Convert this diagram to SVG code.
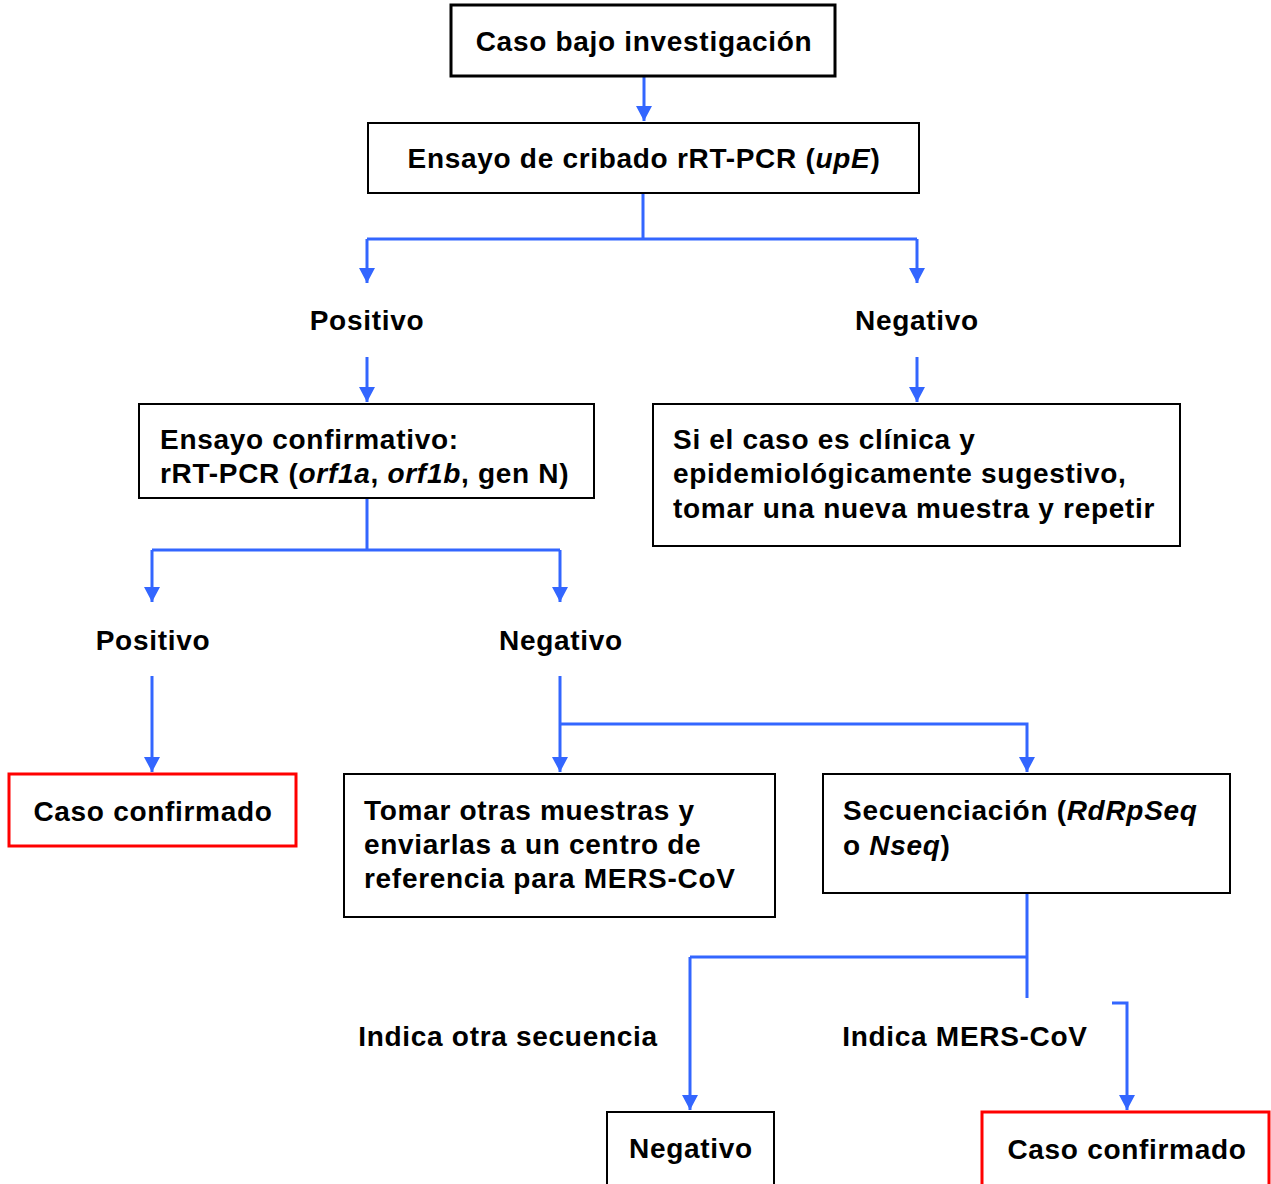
<svg xmlns="http://www.w3.org/2000/svg" width="1271" height="1184" viewBox="0 0 1271 1184">
<defs>
<marker id="ah" markerWidth="16" markerHeight="16" viewBox="0 0 16 16" refX="15" refY="8" orient="auto" markerUnits="userSpaceOnUse">
<path d="M0 0 L15 8 L0 16 Z" fill="#3366FF"/>
</marker>
<style>
text{font-family:"Liberation Sans",Arial,sans-serif;font-weight:bold;font-size:28px;letter-spacing:0.7px;fill:#000}
.c{text-anchor:middle}
.box{fill:#fff;stroke:#000;stroke-width:2}
.thick{stroke-width:3}
.red{fill:#fff;stroke:#FF0000;stroke-width:3}
.ln{fill:none;stroke:#3366FF;stroke-width:3}
.ar{marker-end:url(#ah)}
</style>
</defs>
<rect width="1271" height="1184" fill="#fff"/>
<g id="connectors">
<path class="ln ar" d="M644 77 V121"/>
<path class="ln" d="M643 194 V239 M367 239 H917"/>
<path class="ln ar" d="M367 239 V283"/>
<path class="ln ar" d="M917 239 V283"/>
<path class="ln ar" d="M367 357 V402"/>
<path class="ln ar" d="M917 357 V402"/>
<path class="ln" d="M367 499 V550 M152 550 H560"/>
<path class="ln ar" d="M152 550 V602"/>
<path class="ln ar" d="M560 550 V602"/>
<path class="ln ar" d="M152 676 V772"/>
<path class="ln ar" d="M560 676 V772"/>
<path class="ln ar" d="M560 724 H1027 V772"/>
<path class="ln" d="M1027 894 V998 M690 957 H1027"/>
<path class="ln ar" d="M690 957 V1110"/>
<path class="ln ar" d="M1112 1003 H1127 V1110"/>
</g>
<g id="n1"><rect class="box thick" x="451" y="5" width="384" height="71"/><text class="c" x="644" y="51">Caso bajo investigación</text></g>
<g id="n2"><rect class="box" x="368" y="123" width="551" height="70"/><text class="c" x="644" y="168">Ensayo de cribado rRT-PCR (<tspan font-style="italic">upE</tspan>)</text></g>
<g id="l1"><text class="c" x="367" y="330">Positivo</text></g>
<g id="l2"><text class="c" x="917" y="330">Negativo</text></g>
<g id="n3"><rect class="box" x="139" y="404" width="455" height="94"/><text x="160" y="449">Ensayo confirmativo:</text><text x="160" y="483">rRT-PCR (<tspan font-style="italic">orf1a</tspan>, <tspan font-style="italic">orf1b</tspan>, gen N)</text></g>
<g id="n4"><rect class="box" x="653" y="404" width="527" height="142"/><text x="673" y="449">Si el caso es clínica y</text><text x="673" y="483">epidemiológicamente sugestivo,</text><text x="673" y="518">tomar una nueva muestra y repetir</text></g>
<g id="l3"><text class="c" x="153" y="650">Positivo</text></g>
<g id="l4"><text class="c" x="561" y="650">Negativo</text></g>
<g id="n5"><rect class="red" x="9" y="774" width="287" height="72"/><text class="c" x="153" y="821">Caso confirmado</text></g>
<g id="n6"><rect class="box" x="344" y="774" width="431" height="143"/><text x="364" y="820">Tomar otras muestras y</text><text x="364" y="854">enviarlas a un centro de</text><text x="364" y="888">referencia para MERS-CoV</text></g>
<g id="n7"><rect class="box" x="823" y="774" width="407" height="119"/><text x="843" y="820">Secuenciación (<tspan font-style="italic">RdRpSeq</tspan></text><text x="843" y="855">o <tspan font-style="italic">Nseq</tspan>)</text></g>
<g id="l5"><text class="c" x="508" y="1046">Indica otra secuencia</text></g>
<g id="l6"><text class="c" x="965" y="1046">Indica MERS-CoV</text></g>
<g id="n8"><rect class="box" x="607" y="1112" width="167" height="80"/><text class="c" x="691" y="1158">Negativo</text></g>
<g id="n9"><rect class="red" x="982" y="1112" width="287" height="80"/><text class="c" x="1127" y="1159">Caso confirmado</text></g>
</svg>
